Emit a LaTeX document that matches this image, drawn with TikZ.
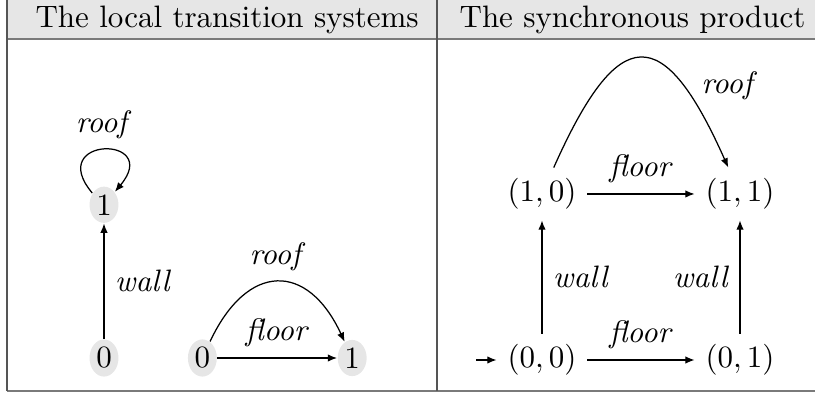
\documentclass[tikz,border=0pt]{standalone}
\usetikzlibrary{arrows.meta, positioning, shapes.geometric}
\definecolor{HeadFill}{HTML}{E6E6E6}
\definecolor{RuleGray}{HTML}{7A7A7A}
\definecolor{FrameGray}{HTML}{555555}
\tikzset{
  lstate/.style={ellipse, fill=HeadFill, inner sep=0.8pt},
  pstate/.style={inner sep=3.33pt},
  trans/.style={-{Latex[length=3pt, width=2.4pt]}},
  frame/.style={draw=FrameGray, line width=0.5pt},
  rule/.style={draw=RuleGray, line width=0.8pt},
}
\begin{document}
\begin{tikzpicture}[x=0.3226pt, y=-0.3226pt]
  \useasboundingbox (0,0) rectangle (815,394);
  % header row
  \fill[HeadFill] (7,0) rectangle (815,39);
  \node[anchor=base west, inner sep=0] (hleft) at (35,27) {The local transition systems};
  \node[anchor=base west, inner sep=0] (hright) at (459,27) {The synchronous product};
  \draw[rule] (7,39) -- (815,39);
  \draw[rule] (7,391) -- (815,391);
  \draw[frame] (7,0) -- (7,391);
  \draw[frame] (437,0) -- (437,391);

  % local systems
  \node[lstate] (w0) at (104,358) {0};
  \node[lstate, above=37.2pt of w0] (w1) {1};
  \node[lstate, right=22pt of w0] (f0) {0};
  \node[lstate, right=38.6pt of f0] (f1) {1};
  \draw[trans] (w0) -- node[right] {\textit{wall}} (w1);
  \draw[trans] (w1.135) .. controls +(130:24pt) and +(50:24pt) .. node[above] {\textit{roof}} (w1.50);
  \draw[trans] (f0) -- node[above] {\textit{floor}} (f1);
  \draw[trans] (f0) to[bend left=65, looseness=1.67] node[above] {\textit{roof}} (f1);

  % synchronous product
  \node[pstate] (s00) at (542,360) {$(0,0)$};
  \node[pstate, right=34.6pt of s00] (s01) {$(0,1)$};
  \node[pstate, above=36.5pt of s00] (s10) {$(1,0)$};
  \node[pstate, above=36.5pt of s01] (s11) {$(1,1)$};
  \coordinate[left=6.5pt of s00.west] (init);
  \draw[trans] (init) -- (s00);
  \draw[trans] (s00) -- node[above] {\textit{floor}} (s01);
  \draw[trans] (s10) -- node[above] {\textit{floor}} (s11);
  \draw[trans] (s00) -- node[right] {\textit{wall}} (s10);
  \draw[trans] (s01) -- node[left] {\textit{wall}} (s11);
  \draw[trans] (s10) to[bend left=66, looseness=2.35] node[pos=0.75, right, xshift=2.5pt] {\textit{roof}} (s11);
\end{tikzpicture}
\end{document}
